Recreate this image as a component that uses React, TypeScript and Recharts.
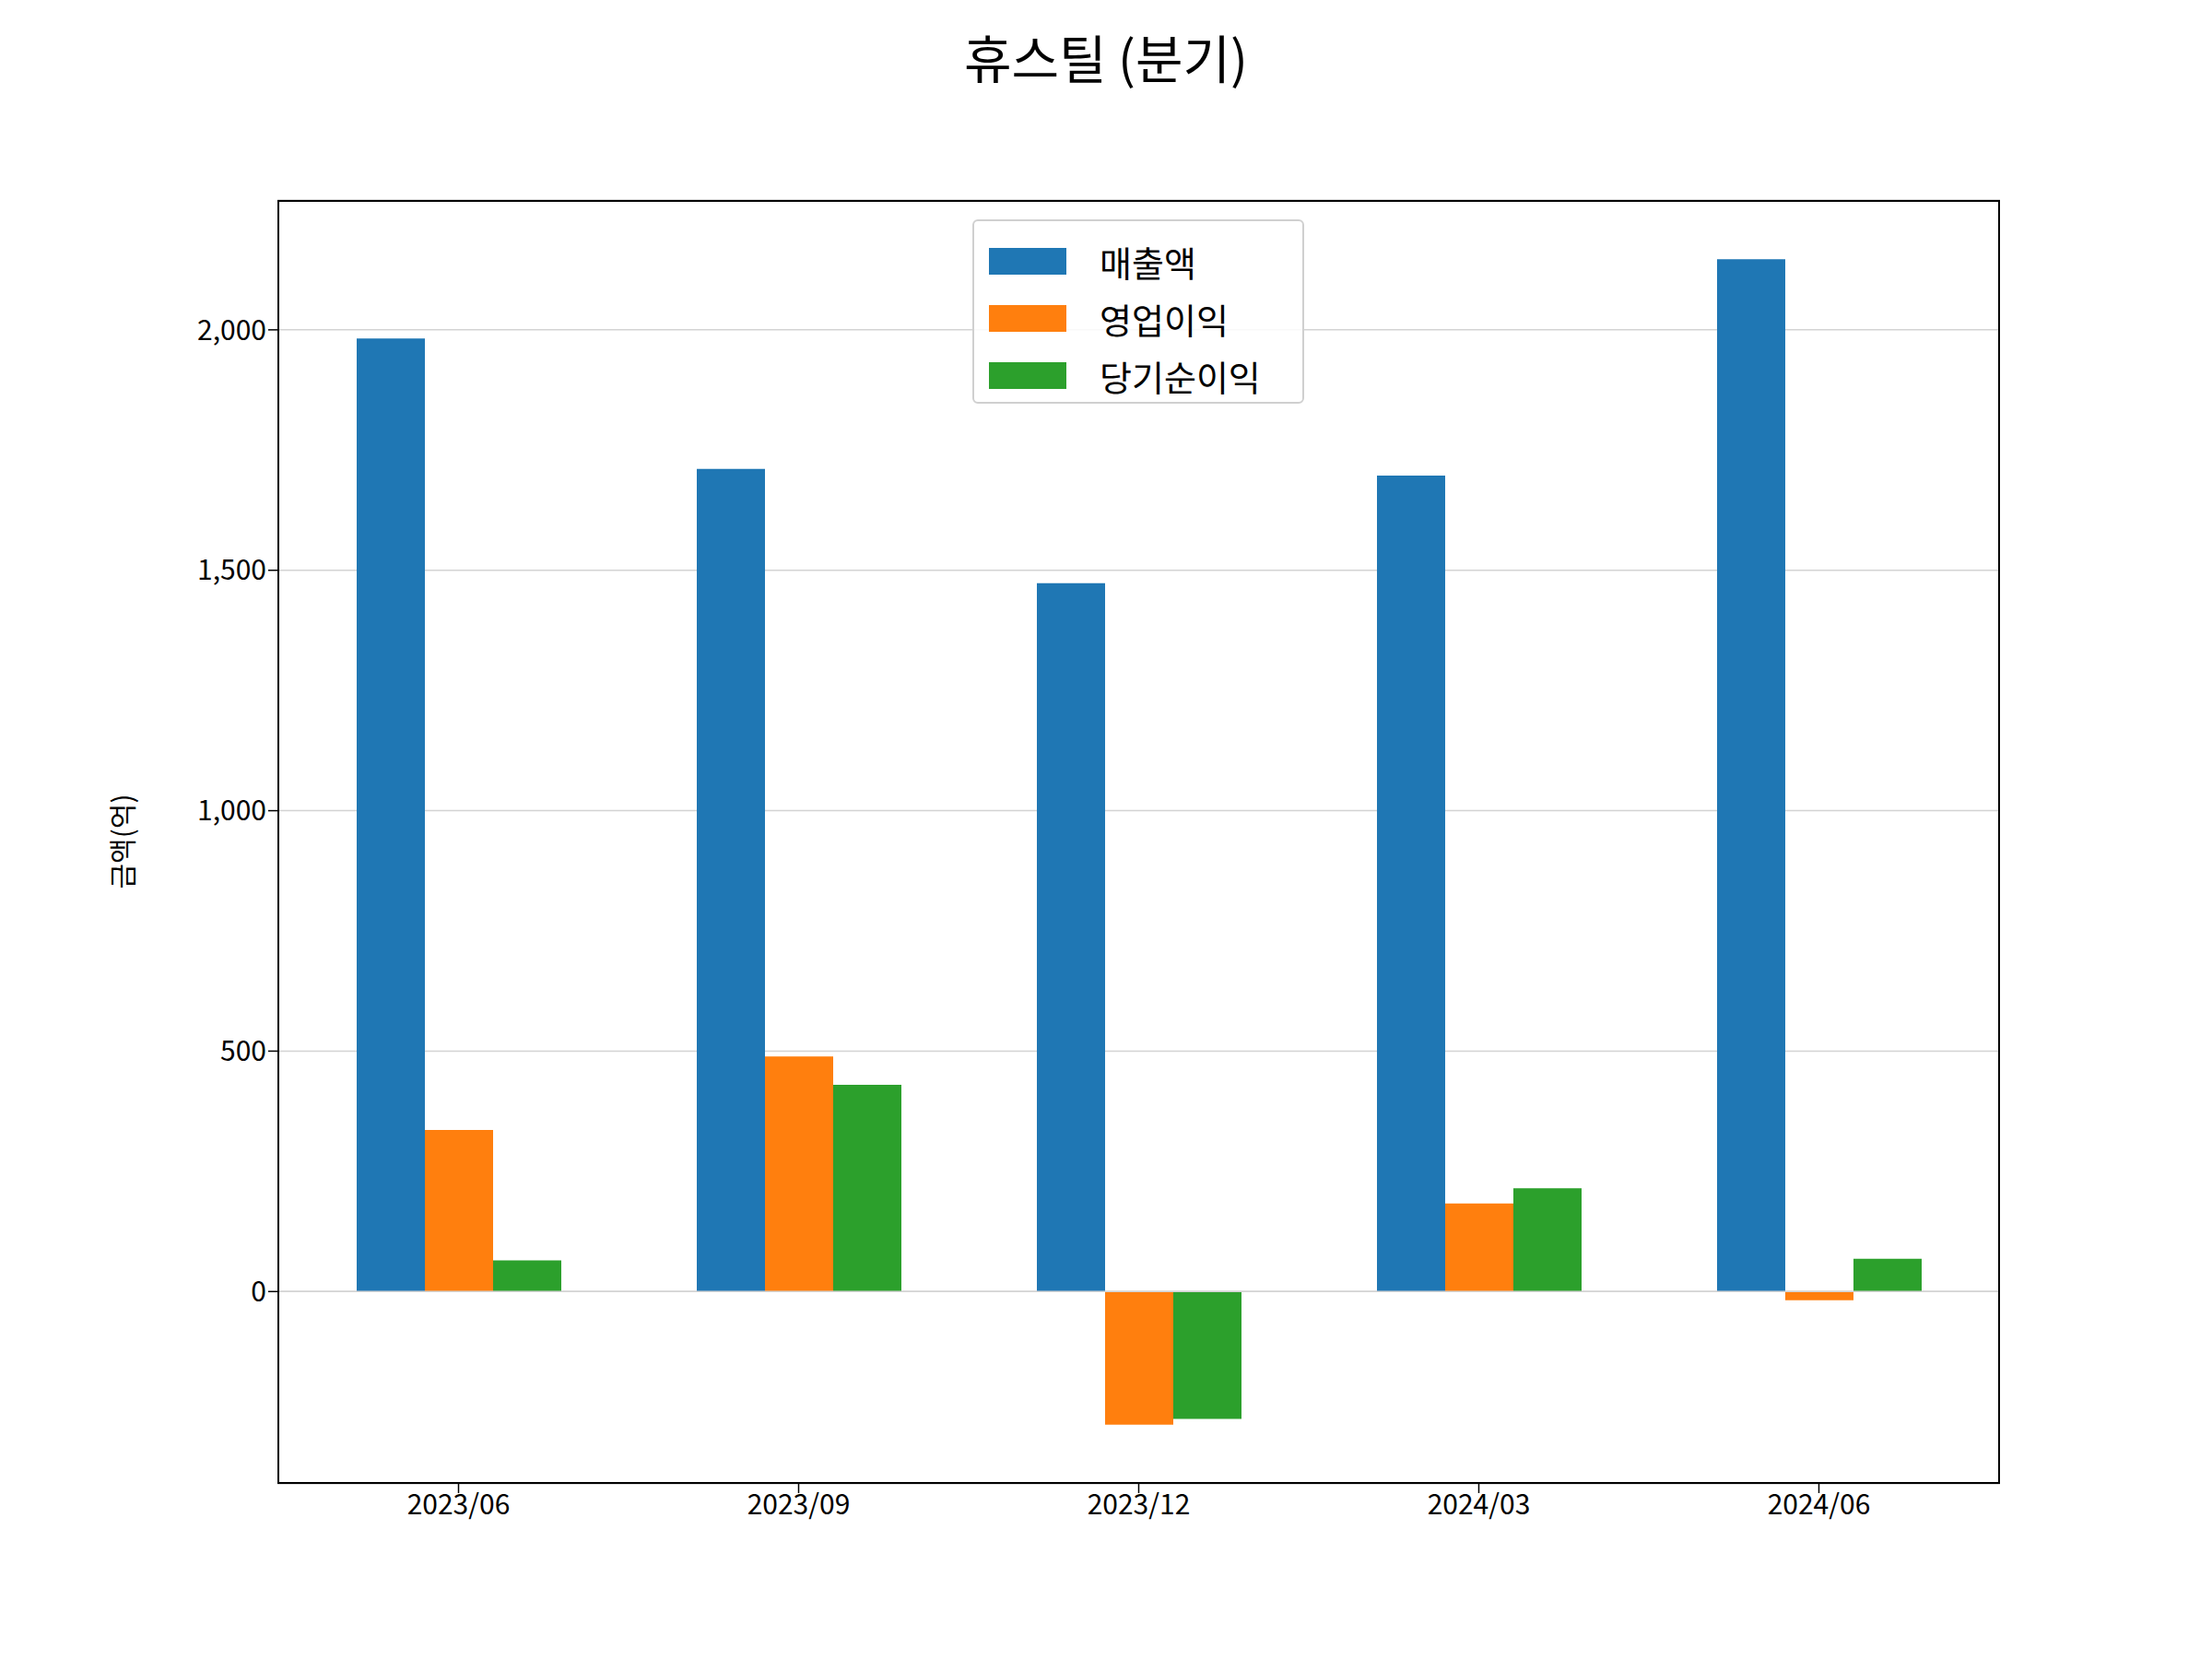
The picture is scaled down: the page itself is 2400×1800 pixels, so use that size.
import { BarChart, Bar, XAxis, YAxis, CartesianGrid, ReferenceLine } from 'recharts'

const quarters = ['2023/06', '2023/09', '2023/12', '2024/03', '2024/06']
const revenue = [1982, 1711, 1473, 1697, 2147]
const operatingProfit = [336, 489, -277, 183, -18]
const netIncome = [65, 430, -265, 215, 68]
const yTicks = [0, 500, 1000, 1500, 2000]

const seriesNames = ['매출액', '영업이익', '당기순이익']
const colors = ['#1f77b4', '#ff7f0e', '#2ca02c']

const data = quarters.map((q, i) => ({
  quarter: q,
  revenue: revenue[i],
  operating: operatingProfit[i],
  net: netIncome[i],
}))

const font = '"Noto Sans CJK KR", "Noto Sans", sans-serif'

export default function App() {
  return (
    <div style={{ position: 'absolute', left: 0, top: 0, width: 2400, height: 1800, background: '#fff', fontFamily: font }}>
      <div style={{ position: 'absolute', top: 20, width: 2400, textAlign: 'center', fontSize: 56 }}>휴스틸 (분기)</div>
      <div style={{ position: 'absolute', left: 131, top: 913, transform: 'translate(-50%, -50%) rotate(-90deg)', fontSize: 30, whiteSpace: 'nowrap' }}>금액(억)</div>
      <BarChart
        width={2400}
        height={1800}
        data={data}
        margin={{ top: 217, right: 230, bottom: 130, left: 0 }}
        barGap={0}
        barSize={74}
      >
        <CartesianGrid vertical={false} stroke="#d3d3d3" strokeWidth={1.5} />
        <XAxis
          dataKey="quarter"
          height={60}
          padding={{ left: 12, right: 12 }}
          tick={{ fontSize: 30, fill: '#000', fontFamily: font }}
          tickLine={{ stroke: '#000', strokeWidth: 1.5 }}
          tickSize={10}
          axisLine={false}
        />
        <YAxis
          width={301}
          domain={[-400, 2270]}
          ticks={yTicks}
          allowDataOverflow
          tickFormatter={(v: number) => v.toLocaleString('en-US')}
          tick={{ fontSize: 30, fill: '#000', fontFamily: font }}
          tickLine={{ stroke: '#000', strokeWidth: 1.5 }}
          tickSize={10}
          axisLine={false}
        />
        <ReferenceLine y={0} stroke="#d3d3d3" strokeWidth={1.5} />
        <Bar dataKey="revenue" fill={colors[0]} isAnimationActive={false} />
        <Bar dataKey="operating" fill={colors[1]} isAnimationActive={false} />
        <Bar dataKey="net" fill={colors[2]} isAnimationActive={false} />
      </BarChart>
      <div style={{ position: 'absolute', left: 301, top: 217, width: 1869, height: 1393, border: '2px solid #000', boxSizing: 'border-box', pointerEvents: 'none' }} />
      <div style={{ position: 'absolute', left: 1055, top: 238, width: 360, height: 200, border: '2px solid #d0d0d0', borderRadius: 6, background: 'rgba(255,255,255,0.85)', boxSizing: 'border-box', padding: '12px 16px' }}>
        {seriesNames.map((n, i) => (
          <div key={n} style={{ display: 'flex', alignItems: 'center', height: 62 }}>
            <div style={{ width: 84, height: 29, background: colors[i], marginRight: 36 }} />
            <span style={{ fontSize: 38 }}>{n}</span>
          </div>
        ))}
      </div>
    </div>
  )
}
